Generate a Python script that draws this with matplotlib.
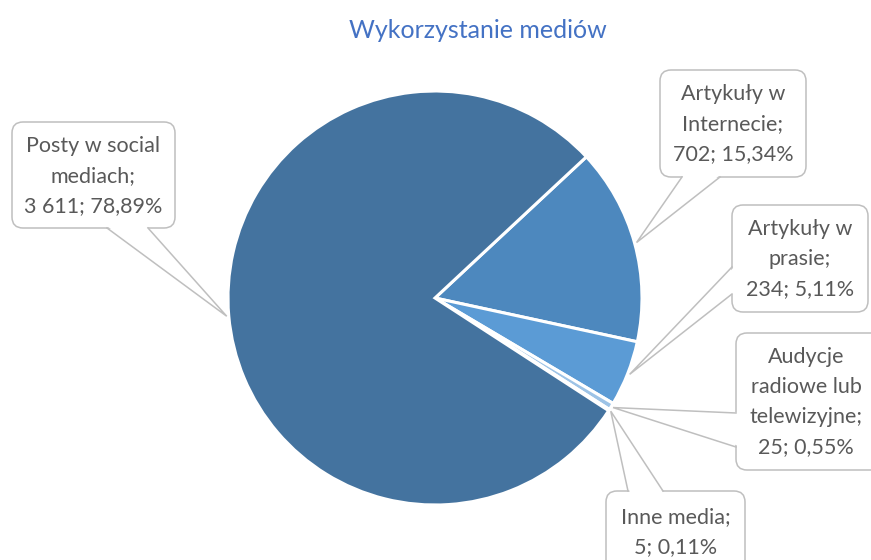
import matplotlib
matplotlib.use("Agg")
import matplotlib.pyplot as plt
import numpy as np
from matplotlib.patches import FancyBboxPatch, Polygon

# ---- data ----
categories = ["Artykuły w Internecie", "Artykuły w prasie",
              "Audycje radiowe lub telewizyjne", "Inne media",
              "Posty w social mediach"]
values = [702, 234, 25, 5, 3611]
percents = [15.34, 5.11, 0.55, 0.11, 78.89]
label_names = ["Artykuły w\nInternecie", "Artykuły w\nprasie",
               "Audycje\nradiowe lub\ntelewizyjne", "Inne media",
               "Posty w social\nmediach"]
colors = ["#4D88BE", "#5B9BD5", "#9DC3E6", "#BDD7EE", "#44739F"]
title = "Wykorzystanie mediów"

W, H = 871, 560
plt.rcParams['font.family'] = ['Lato', 'DejaVu Sans']
fig = plt.figure(figsize=(W / 100, H / 100), dpi=100)
ax = fig.add_axes([0, 0, 1, 1])

def Y(y):  # image y -> axes y
    return H - y

cx, cy, R = 435, Y(298), 207
wedges, _ = ax.pie(values, colors=colors, startangle=43, counterclock=False,
                   center=(cx, cy), radius=R, frame=True,
                   wedgeprops=dict(edgecolor="white", linewidth=2.2))
ax.set_xlim(0, W)
ax.set_ylim(0, H)
ax.set_aspect('equal')
ax.axis('off')

def fmt_int(v):
    return f"{v:,}".replace(",", " ")

def fmt_pct(p):
    return f"{p:.2f}".replace(".", ",") + "%"

# box layout (image coords): x0, x1, y0, y1, tail base points
boxes = [
    dict(x0=660, x1=806, y0=70, y1=177, base=[(682, 177), (720, 177)]),
    dict(x0=732, x1=868, y0=205, y1=312, base=[(732, 267), (732, 294)]),
    dict(x0=736, x1=882, y0=333, y1=470, base=[(736, 413), (736, 447)]),
    dict(x0=606, x1=745, y0=491, y1=580, base=[(628, 491), (663, 491)]),
    dict(x0=12, x1=175, y0=122, y1=228, base=[(107, 228), (148, 228)]),
]
text_centers = [(733, 124), (800, 259), (806, 402), (676, 532), (93, 176)]

edge_col = "#BFBFBF"
txt_col = "#595959"
for i, w in enumerate(wedges):
    b = boxes[i]
    mid = np.deg2rad((w.theta1 + w.theta2) / 2)
    tip = (cx + 1.01 * R * np.cos(mid), cy + 1.01 * R * np.sin(mid))
    box = FancyBboxPatch((b["x0"], Y(b["y1"])), b["x1"] - b["x0"], b["y1"] - b["y0"],
                         boxstyle="round,pad=0,rounding_size=11",
                         facecolor="white", edgecolor=edge_col, linewidth=1.1,
                         zorder=5, clip_on=False)
    ax.add_patch(box)
    (bx1, by1), (bx2, by2) = b["base"]
    p1 = (bx1, Y(by1)); p2 = (bx2, Y(by2))
    bc = ((b["x0"] + b["x1"]) / 2, Y((b["y0"] + b["y1"]) / 2))
    def inward(p):
        d = np.array(bc) - np.array(p)
        d = d / np.linalg.norm(d) * 2.5
        return (p[0] + d[0], p[1] + d[1])
    poly = Polygon([inward(p1), tip, inward(p2)], closed=True, facecolor="white",
                   edgecolor="none", zorder=6)
    ax.add_patch(poly)
    ax.plot([p1[0], tip[0], p2[0]], [p1[1], tip[1], p2[1]], color=edge_col,
            linewidth=1.1, zorder=7, solid_joinstyle="miter")
    label = f"{label_names[i]};\n{fmt_int(values[i])}; {fmt_pct(percents[i])}"
    tx, ty = text_centers[i]
    ax.text(tx, Y(ty), label, ha="center", va="center", fontsize=15.5,
            color=txt_col, linespacing=1.62, zorder=8)

ax.text(478, Y(30), title, ha="center", va="center", fontsize=18, color="#4472C4")

fig.savefig("out.png", dpi=100)
